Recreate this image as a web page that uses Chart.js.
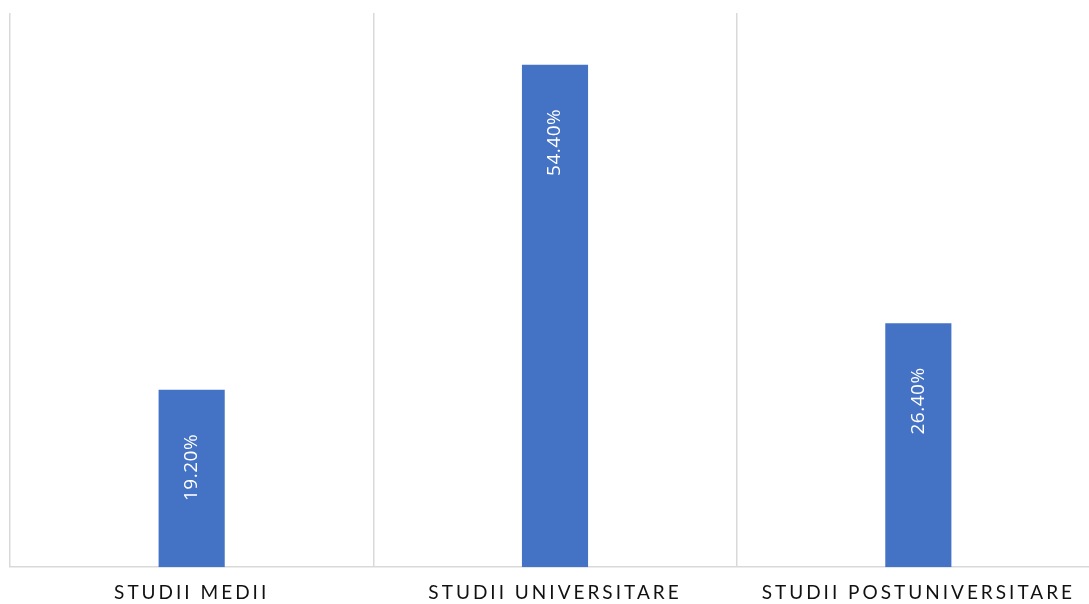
<!DOCTYPE html>
<html>
<head>
<meta charset="utf-8">
<script src="https://cdn.jsdelivr.net/npm/chart.js@4"></script>
<style>
  html, body { margin: 0; padding: 0; background: #fff; overflow: hidden; }
  #wrap { position: relative; width: 1100px; height: 619px; }
</style>
</head>
<body>
<div id="wrap"><canvas id="chart"></canvas></div>
<script>
// categorii si valori (%)
const categorii = ['STUDII MEDII', 'STUDII UNIVERSITARE', 'STUDII POSTUNIVERSITARE'];
const procente = [19.2, 54.4, 26.4];

// etichete rotite in interiorul barelor
const eticheteBare = {
  id: 'eticheteBare',
  beforeDraw(chart) {
    chart.ctx.letterSpacing = '3px';
  },
  afterDatasetsDraw(chart) {
    const ctx = chart.ctx;
    const meta = chart.getDatasetMeta(0);
    ctx.save();
    ctx.letterSpacing = '0.5px';
    ctx.fillStyle = '#ffffff';
    ctx.font = '19px "Open Sans"';
    ctx.textAlign = 'right';
    ctx.textBaseline = 'middle';
    meta.data.forEach((bar, i) => {
      ctx.save();
      ctx.translate(bar.x, bar.y + 44);
      ctx.rotate(-Math.PI / 2);
      ctx.fillText(procente[i].toFixed(2) + '%', 0, 0);
      ctx.restore();
    });
    ctx.restore();
  }
};

new Chart(document.getElementById('chart'), {
  type: 'bar',
  data: {
    labels: categorii,
    datasets: [{
      data: procente,
      backgroundColor: '#4472C4',
      categoryPercentage: 1,
      barPercentage: 0.182
    }]
  },
  options: {
    responsive: true,
    maintainAspectRatio: false,
    animation: false,
    layout: { padding: { left: 10, top: 13, right: 0, bottom: 1 } },
    plugins: {
      legend: { display: false },
      tooltip: { enabled: false }
    },
    scales: {
      x: {
        grid: { color: '#d9d9d9', lineWidth: 1.5, drawTicks: false, offset: true },
        border: { color: '#d9d9d9', width: 1.5 },
        ticks: {
          color: '#111',
          padding: 14,
          maxRotation: 0,
          font: { family: 'Lato', size: 19 }
        }
      },
      y: {
        display: false,
        min: 0,
        max: 60
      }
    }
  },
  plugins: [eticheteBare]
});
</script>
</body>
</html>
